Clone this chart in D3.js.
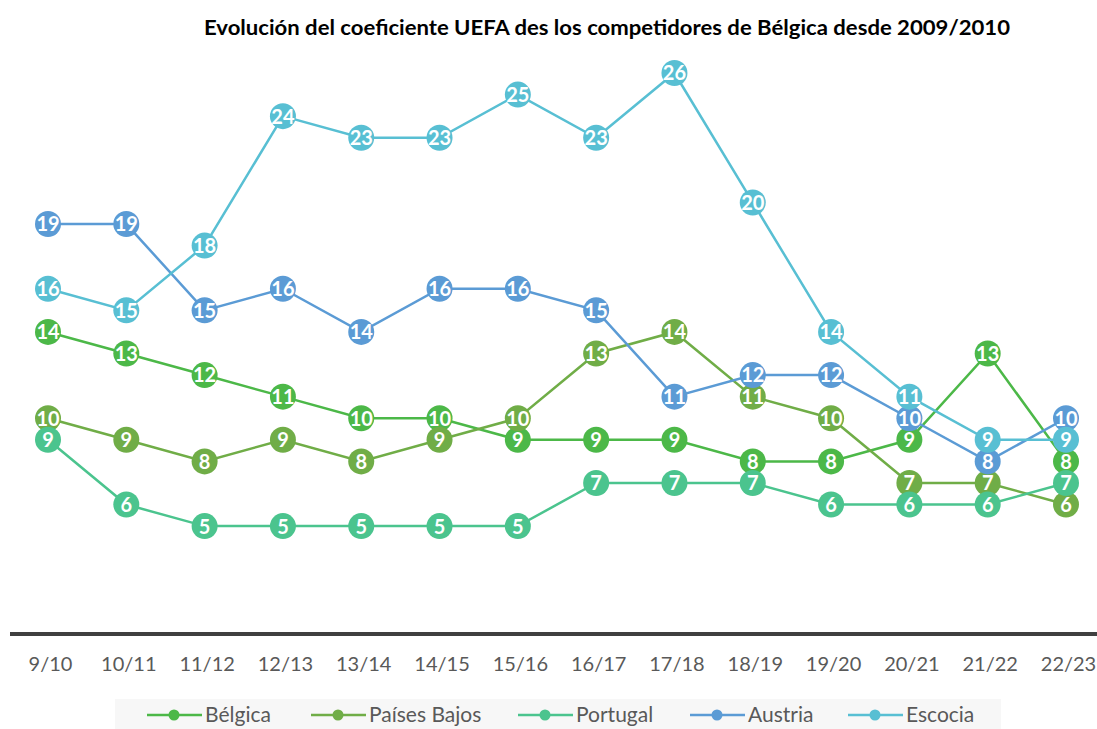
<!DOCTYPE html>
<html>
<head>
<meta charset="utf-8">
<script src="https://cdn.jsdelivr.net/npm/d3@7"></script>
<style>
  body { margin: 0; background: #fff; }
  text { font-family: Lato, "Open Sans", sans-serif; }
</style>
</head>
<body>
<div id="chart"></div>
<script>
var seasons = ["9/10", "10/11", "11/12", "12/13", "13/14", "14/15", "15/16", "16/17", "17/18", "18/19", "19/20", "20/21", "21/22", "22/23"];
var belgica = [14, 13, 12, 11, 10, 10, 9, 9, 9, 8, 8, 9, 13, 8];
var paisesBajos = [10, 9, 8, 9, 8, 9, 10, 13, 14, 11, 10, 7, 7, 6];
var portugal = [9, 6, 5, 5, 5, 5, 5, 7, 7, 7, 6, 6, 6, 7];
var austria = [19, 19, 15, 16, 14, 16, 16, 15, 11, 12, 12, 10, 8, 10];
var escocia = [16, 15, 18, 24, 23, 23, 25, 23, 26, 20, 14, 11, 9, 9];
var seriesNames = ["Bélgica", "Países Bajos", "Portugal", "Austria", "Escocia"];
var colors = ["#4cb848", "#70ad47", "#4bc48e", "#5b9bd5", "#58bfd3"];

var series = [belgica, paisesBajos, portugal, austria, escocia].map(function(vals, i) {
    return {name: seriesNames[i], color: colors[i], values: vals};
});

var width = 1097, height = 729;

var svg = d3.select("#chart")
  .append("svg")
    .attr("width", width)
    .attr("height", height);

// scales
var x = d3.scalePoint()
    .domain(seasons)
    .range([48, 1066]);

var y = d3.scaleLinear()
    .domain([0, 26])
    .range([634, 73]);

// title
svg.append("text")
    .attr("x", 607)
    .attr("y", 35)
    .attr("text-anchor", "middle")
    .attr("textLength", 806)
    .attr("lengthAdjust", "spacingAndGlyphs")
    .style("font-size", "20px")
    .style("font-weight", "bold")
    .style("fill", "#000")
    .text("Evolución del coeficiente UEFA des los competidores de Bélgica desde 2009/2010");

// x axis
var xAxis = svg.append("g")
    .attr("transform", "translate(2," + y(0) + ")")
    .call(d3.axisBottom(x).tickSize(0).tickPadding(23));
xAxis.select(".domain").remove();
xAxis.selectAll("text")
    .style("font-size", "20px")
    .style("fill", "#595959")
    .style("font-family", "Lato, sans-serif");

svg.append("line")
    .attr("x1", 10)
    .attr("x2", width)
    .attr("y1", y(0))
    .attr("y2", y(0))
    .style("stroke", "#404040")
    .style("stroke-width", 4);

var line = d3.line()
    .x(function(d, i) { return x(seasons[i]); })
    .y(function(d) { return y(d); });

// lines and markers, series after series
series.forEach(function(s) {
    var g = svg.append("g");
    g.append("path")
        .datum(s.values)
        .attr("d", line)
        .style("fill", "none")
        .style("stroke", s.color)
        .style("stroke-width", 2.5);

    var pts = g.selectAll(".pt")
        .data(s.values)
        .enter()
        .append("g")
        .attr("transform", function(d, i) {
            return "translate(" + x(seasons[i]) + "," + y(d) + ")";
        });
    pts.append("circle")
        .attr("r", 13)
        .style("fill", s.color);
    pts.append("text")
        .attr("text-anchor", "middle")
        .attr("dy", "0.37em")
        .style("font-size", "20px")
        .style("font-weight", "bold")
        .style("fill", "#fff")
        .text(function(d) { return d; });
});

// legend
svg.append("rect")
    .attr("x", 115)
    .attr("y", 699)
    .attr("width", 886)
    .attr("height", 32)
    .style("fill", "#f7f7f7");

var legendX = [147, 311, 518, 690, 848];
var legend = svg.selectAll(".legend")
    .data(series)
    .enter()
    .append("g")
    .attr("transform", function(d, i) {
        return "translate(" + legendX[i] + ",715)";
    });
legend.append("line")
    .attr("x1", 0)
    .attr("x2", 55)
    .style("stroke", function(d) { return d.color; })
    .style("stroke-width", 2.5);
legend.append("circle")
    .attr("cx", 27)
    .attr("r", 5.5)
    .style("fill", function(d) { return d.color; });
legend.append("text")
    .attr("x", 58)
    .attr("dy", "0.35em")
    .style("font-size", "21px")
    .style("fill", "#595959")
    .text(function(d) { return d.name; });
</script>
</body>
</html>
